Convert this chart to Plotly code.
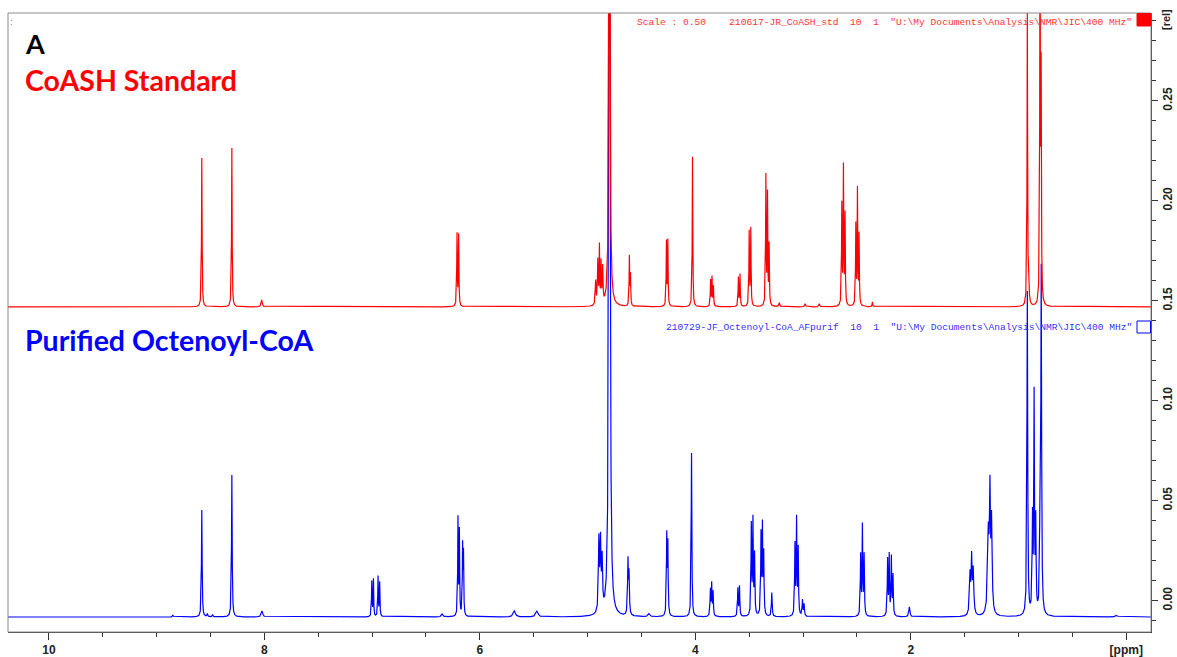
import numpy as np
import plotly.graph_objects as go

# ---- peak tables (chemical shift in ppm, height in rel units, half-width in ppm) ----
# CoASH standard
coash_ppm = [8.581, 8.302, 8.025, 6.212, 6.197,
             4.925, 4.905, 4.890, 4.875, 4.860, 4.797,
             4.612, 4.602, 4.268, 4.255, 4.026,
             3.858, 3.845, 3.832, 3.600, 3.585, 3.500, 3.485,
             3.345, 3.330, 3.315, 3.220,
             2.980, 2.850, 2.640, 2.625, 2.610, 2.510, 2.495, 2.480, 2.356,
             0.918, 0.905, 0.800, 0.790]
coash_height = [0.0745, 0.0795, 0.0035, 0.0360, 0.0355,
                0.0120, 0.0220, 0.0285, 0.0200, 0.0180, 0.5500,
                0.0245, 0.0150, 0.0320, 0.0325, 0.0750,
                0.0130, 0.0145, 0.0100, 0.0145, 0.0160, 0.0370, 0.0385,
                0.0645, 0.0550, 0.0300, 0.0020,
                0.0015, 0.0015, 0.0500, 0.0685, 0.0450, 0.0400, 0.0575, 0.0350, 0.0025,
                0.1460, 0.0120, 0.2000, 0.1110]
coash_hwhm = [0.003, 0.003, 0.006, 0.003, 0.003,
              0.004, 0.004, 0.003, 0.003, 0.004, 0.004,
              0.003, 0.003, 0.003, 0.003, 0.003,
              0.003, 0.003, 0.003, 0.003, 0.003, 0.003, 0.003,
              0.003, 0.003, 0.003, 0.005,
              0.005, 0.005, 0.003, 0.003, 0.003, 0.003, 0.003, 0.003, 0.003,
              0.003, 0.004, 0.003, 0.003]

# Purified octenoyl-CoA
octenoyl_ppm = [8.850, 8.581, 8.530, 8.480, 8.302, 8.022,
                7.003, 6.988, 6.945, 6.930, 6.350,
                6.203, 6.190, 6.160, 6.152, 5.680, 5.470,
                4.895, 4.880, 4.865, 4.797, 4.625, 4.615, 4.430,
                4.265, 4.255, 4.035,
                3.860, 3.848, 3.835, 3.605, 3.590,
                3.480, 3.465, 3.450, 3.390, 3.377, 3.365, 3.290,
                3.075, 3.060, 3.045, 3.005, 2.990,
                2.465, 2.449, 2.433, 2.215, 2.200, 2.180, 2.165, 2.013,
                1.450, 1.435, 1.420, 1.280, 1.265, 1.250,
                0.918, 0.870, 0.855, 0.840, 0.800, 0.789, 0.090]
octenoyl_height = [0.0010, 0.0535, 0.0015, 0.0012, 0.0710, 0.0030,
                   0.0175, 0.0185, 0.0200, 0.0170, 0.0015,
                   0.0485, 0.0420, 0.0340, 0.0300, 0.0030, 0.0030,
                   0.0360, 0.0340, 0.0250, 0.7000, 0.0270, 0.0200, 0.0015,
                   0.0395, 0.0350, 0.0820,
                   0.0130, 0.0160, 0.0120, 0.0140, 0.0150,
                   0.0450, 0.0470, 0.0300, 0.0400, 0.0435, 0.0300, 0.0120,
                   0.0350, 0.0475, 0.0330, 0.0080, 0.0060,
                   0.0300, 0.0445, 0.0300, 0.0280, 0.0300, 0.0290, 0.0200, 0.0050,
                   0.0200, 0.0270, 0.0220, 0.0400, 0.0560, 0.0450,
                   0.1620, 0.0470, 0.1075, 0.0450, 0.0500, 0.1700, 0.0010]
octenoyl_hwhm = [0.004, 0.0035, 0.004, 0.004, 0.0035, 0.008,
                 0.003, 0.003, 0.003, 0.003, 0.008,
                 0.003, 0.003, 0.003, 0.003, 0.012, 0.012,
                 0.005, 0.005, 0.005, 0.005, 0.004, 0.004, 0.010,
                 0.0035, 0.0035, 0.0035,
                 0.0035, 0.0035, 0.0035, 0.0035, 0.0035,
                 0.0035, 0.0035, 0.0035, 0.0035, 0.0035, 0.0035, 0.004,
                 0.0035, 0.0035, 0.0035, 0.004, 0.004,
                 0.0035, 0.0035, 0.0035, 0.0035, 0.0035, 0.0035, 0.0035, 0.006,
                 0.006, 0.005, 0.006, 0.008, 0.005, 0.006,
                 0.004, 0.004, 0.0035, 0.004, 0.004, 0.004, 0.010]

# axis ticks
x_tickvals = [10, 8, 6, 4, 2, 0]
x_ticktext = ["10", "8", "6", "4", "2", "[ppm]"]
y_tickvals = [0.00, 0.05, 0.10, 0.15, 0.20, 0.25]
y_ticktext = ["0.00", "0.05", "0.10", "0.15", "0.20", "0.25"]

# vertical offsets of the two stacked spectra (rel units)
COASH_OFFSET = 0.1469
OCTENOYL_OFFSET = -0.0082
PPM_RANGE = [10.38, -0.23]
REL_RANGE = [-0.0157, 0.2939]


def lorentz_sum(grid, centres, heights, hwhms):
    c = np.asarray(centres)[:, None]
    h = np.asarray(heights)[:, None]
    w = np.asarray(hwhms)[:, None]
    return (h / (1.0 + ((grid[None, :] - c) / w) ** 2)).sum(axis=0)


ppm = np.arange(PPM_RANGE[1], PPM_RANGE[0], 0.0005)
coash = COASH_OFFSET + lorentz_sum(ppm, coash_ppm, coash_height, coash_hwhm)
octenoyl = OCTENOYL_OFFSET + lorentz_sum(ppm, octenoyl_ppm, octenoyl_height, octenoyl_hwhm)

# plot-area geometry in pixels
W, H = 1177, 657
L, R, T, B = 8, 1151, 13, 632


def px(x):
    return (x - L) / (R - L)


def py(y):
    return (B - y) / (B - T)


def bold(labels):
    return [f"<b>{s}</b>" for s in labels]


fig = go.Figure()
fig.add_trace(go.Scatter(x=ppm, y=octenoyl, mode="lines",
                         line=dict(color="#0000ff", width=1.2), hoverinfo="skip"))
fig.add_trace(go.Scatter(x=ppm, y=coash, mode="lines",
                         line=dict(color="#ff0000", width=1.2), hoverinfo="skip"))

tick_font = dict(family="Liberation Sans", size=12, color="#222222")

fig.update_layout(
    width=W, height=H,
    margin=dict(l=L, r=W - R, t=T, b=H - B, pad=0),
    paper_bgcolor="white", plot_bgcolor="white",
    showlegend=False,
    xaxis=dict(
        range=PPM_RANGE, tickmode="array", tickvals=x_tickvals, ticktext=bold(x_ticktext),
        ticks="outside", ticklen=7, tickcolor="#333333", tickwidth=1,
        minor=dict(tickvals=[9.5, 9, 8.5, 7.5, 7, 6.5, 5.5, 5, 4.5, 3.5, 3, 2.5, 1.5, 1, 0.5],
                   ticks="outside", ticklen=4, tickcolor="#333333"),
        showgrid=False, zeroline=False, showline=True, linecolor="#333333", linewidth=1,
        tickfont=tick_font, automargin=False,
    ),
    yaxis=dict(
        side="right", range=REL_RANGE, tickmode="array", tickvals=y_tickvals,
        ticktext=bold(y_ticktext), tickangle=-90,
        ticks="outside", ticklen=6, tickcolor="#333333", tickwidth=1,
        minor=dict(dtick=0.01, tick0=0, ticks="outside", ticklen=4, tickcolor="#333333"),
        showgrid=False, zeroline=False, showline=True, linecolor="#333333", linewidth=1,
        tickfont=tick_font, automargin=False,
    ),
)

# frame around the plot area
fig.add_shape(type="rect", xref="paper", yref="paper", x0=0, x1=1, y0=0, y1=1,
              line=dict(color="#8a8a8a", width=1), layer="above")
# spectrum colour markers
fig.add_shape(type="rect", xref="paper", yref="paper",
              x0=px(1137), x1=px(1150.5), y0=py(26), y1=py(13.5),
              line=dict(color="#ff0000", width=1), fillcolor="#ff0000")
fig.add_shape(type="rect", xref="paper", yref="paper",
              x0=px(1137), x1=px(1150.5), y0=py(333), y1=py(321),
              line=dict(color="#0000ff", width=1), fillcolor="rgba(0,0,0,0)")

nb = "\u00a0"
red_header = (f"Scale{nb}:{nb}0.50{nb*4}210617-JR_CoASH_std{nb*2}10{nb*2}1{nb*2}"
              f"\"U:\\My{nb}Documents\\Analysis\\NMR\\JIC\\400{nb}MHz\"")
blue_header = (f"210729-JF_Octenoyl-CoA_AFpurif{nb*2}10{nb*2}1{nb*2}"
               f"\"U:\\My{nb}Documents\\Analysis\\NMR\\JIC\\400{nb}MHz\"")

mono = dict(family="Liberation Mono", size=9.6)
fig.add_annotation(x=px(1134), y=py(22), xref="paper", yref="paper", text=red_header,
                   showarrow=False, xanchor="right", yanchor="middle",
                   font=dict(color="#ff3333", **mono))
fig.add_annotation(x=px(1134), y=py(327), xref="paper", yref="paper", text=blue_header,
                   showarrow=False, xanchor="right", yanchor="middle",
                   font=dict(color="#3333ff", **mono))

title_font = "Lato"
fig.add_annotation(x=px(23), y=py(43), xref="paper", yref="paper", text="A",
                   showarrow=False, xanchor="left", yanchor="middle",
                   font=dict(family=title_font, size=27, color="black", weight="bold"))
fig.add_annotation(x=px(23), y=py(80), xref="paper", yref="paper", text="CoASH Standard",
                   showarrow=False, xanchor="left", yanchor="middle",
                   font=dict(family=title_font, size=28.5, color="#ff0000", weight="bold"))
fig.add_annotation(x=px(23), y=py(340), xref="paper", yref="paper",
                   text="Purified Octenoyl-CoA",
                   showarrow=False, xanchor="left", yanchor="middle",
                   font=dict(family=title_font, size=28.5, color="#0000ff", weight="bold"))
fig.add_annotation(x=px(11), y=py(22), xref="paper", yref="paper", text=":",
                   showarrow=False, xanchor="center", yanchor="middle",
                   font=dict(family="Liberation Sans", size=9, color="#777777"))
fig.add_annotation(x=px(1166), y=py(20), xref="paper", yref="paper", text="<b>[rel]</b>",
                   showarrow=False, xanchor="center", yanchor="middle", textangle=-90,
                   font=dict(family="Liberation Sans", size=11, color="#222222"))

fig.write_html("out.html")
